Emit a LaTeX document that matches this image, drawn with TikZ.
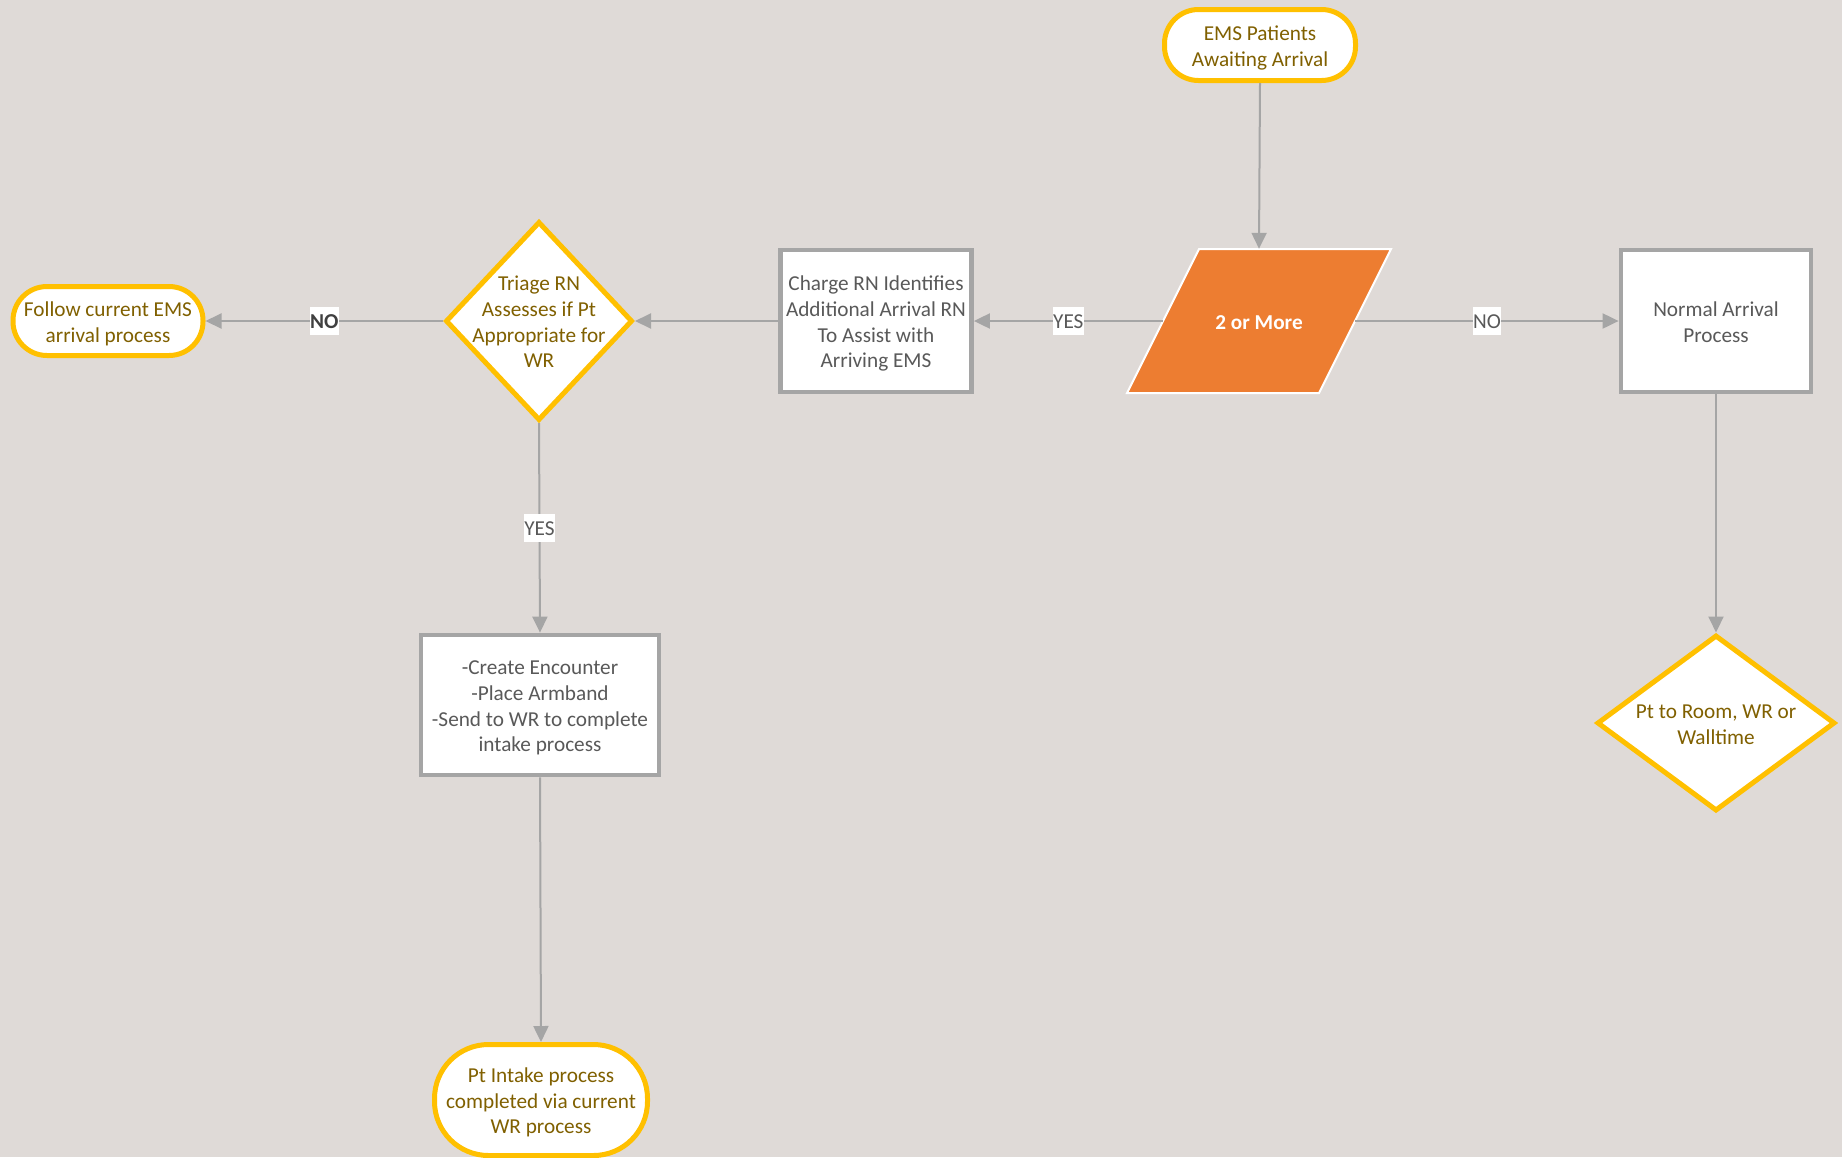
\documentclass[tikz,border=0pt]{standalone}
\usepackage{fontspec}
\setmainfont{Carlito}
\usetikzlibrary{shapes.geometric,arrows.meta}
\definecolor{bgc}{HTML}{DFDAD7}
\definecolor{gold}{HTML}{FFC000}
\definecolor{goldtxt}{HTML}{806000}
\definecolor{boxgray}{HTML}{A5A5A5}
\definecolor{txtgray}{HTML}{595959}
\definecolor{lblgray}{HTML}{404040}
\definecolor{orangefill}{HTML}{ED7D31}
\newcommand\txr{-8.2pt}
\newcommand\tx[1]{\raisebox{\txr}[0pt][0pt]{\begin{tabular}{@{}c@{}}#1\end{tabular}}}
\begin{document}
\begin{tikzpicture}[x=1pt,y=-1pt,
  every node/.style={font=\fontsize{21.25}{25.8}\selectfont, align=center},
  term/.style={draw=gold, line width=5pt, fill=white, text=goldtxt, rounded corners=34pt, inner sep=0pt},
  procbox/.style={draw=boxgray, line width=4.8pt, fill=white, text=txtgray, inner sep=0pt},
  dia/.style={diamond, draw=gold, line width=5pt, fill=white, text=goldtxt, inner sep=-28pt},
  arr/.style={draw=boxgray, line width=2pt, -{Triangle[length=16pt,width=15pt]}},
  lbl/.style={fill=white, text=txtgray, inner xsep=0.5pt, inner ysep=2pt, text height=19.8pt, text depth=4.2pt}
]
\useasboundingbox (0,0) rectangle (1842,1157);
\clip (0,0) rectangle (1842,1157);
\fill[bgc] (0,0) rectangle (1842,1157);

% nodes
\node[term, minimum width=191pt, minimum height=71pt] (ems) at (1260,45) {\tx{EMS Patients\\Awaiting Arrival}};
\fill[orangefill, draw=white, line width=2pt] (1199,249) -- (1391,249) -- (1319,393) -- (1127,393) -- cycle;
\node[minimum width=192pt, minimum height=144pt, inner sep=0pt, text=white, font=\fontsize{21.25}{25.8}\selectfont\bfseries] (par) at (1259,321) {\tx{2 or More}};
\node[procbox, minimum width=191pt, minimum height=142pt] (charge) at (876,321) {\tx{Charge RN Identifies\\Additional Arrival RN\\To Assist with\\Arriving EMS}};
\node[dia, minimum width=187pt, minimum height=199pt] (triage) at (539,321) {\tx{Triage RN\\Assesses if Pt\\Appropriate for\\WR}};
\node[term, minimum width=190pt, minimum height=69pt] (follow) at (108,321) {\tx{Follow current EMS\\arrival process}};
\node[procbox, minimum width=190pt, minimum height=142pt] (normal) at (1716,321) {\tx{Normal Arrival\\Process}};
\node[dia, minimum width=238pt, minimum height=176pt] (room) at (1716,723) {\tx{Pt to Room, WR or\\Walltime}};
\node[procbox, minimum width=238pt, minimum height=140pt] (create) at (540,705) {\tx{-Create Encounter\\-Place Armband\\-Send to WR to complete\\intake process}};
\node[term, rounded corners=54pt, minimum width=213pt, minimum height=111pt] (intake) at (541,1100) {\tx{Pt Intake process\\completed via current\\WR process}};

% connectors
\draw[arr] (ems.south) -- (par.north);
\draw[arr] (par.west) -- node[lbl] {YES} (charge.east);
\draw[arr] (charge.west) -- (triage.east);
\draw[arr] (triage.west) -- node[lbl, text=lblgray, font=\fontsize{21.25}{25.8}\selectfont\bfseries] {NO} (follow.east);
\draw[arr] (par.east) -- node[lbl] {NO} (normal.west);
\draw[arr] (normal.south) -- (room.north);
\draw[arr] (triage.south) -- node[lbl] {YES} (create.north);
\draw[arr] (create.south) -- (intake.north);
\end{tikzpicture}
\end{document}
